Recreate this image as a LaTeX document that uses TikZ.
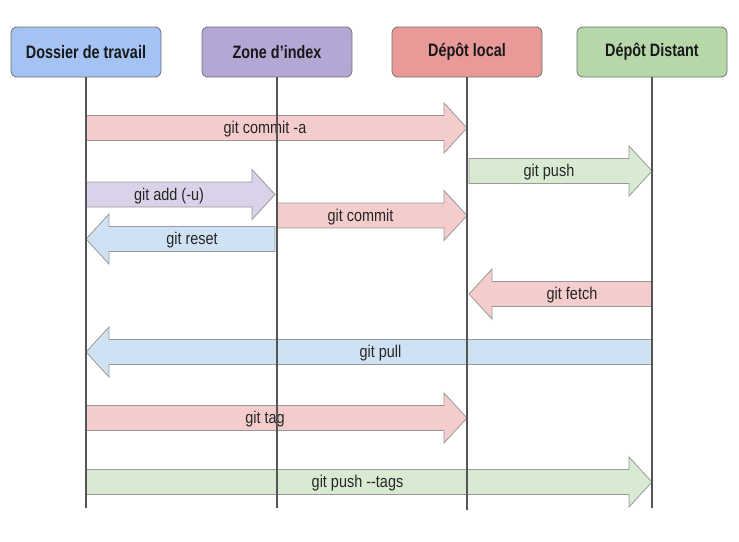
\documentclass[tikz,border=0pt]{standalone}
\usepackage{fontspec}
\setmainfont[Ligatures=NoCommon]{Liberation Sans}
\usetikzlibrary{calc}
\definecolor{hblue}{HTML}{A4C2F4}
\definecolor{hpurple}{HTML}{B4A7D6}
\definecolor{hred}{HTML}{EA9999}
\definecolor{hgreen}{HTML}{B6D7A8}
\definecolor{ared}{HTML}{F4CCCC}
\definecolor{agreen}{HTML}{D9EAD3}
\definecolor{apurple}{HTML}{D9D2E9}
\definecolor{ablue}{HTML}{CFE2F3}
\definecolor{boxline}{HTML}{707070}
\definecolor{lifec}{HTML}{555555}
\definecolor{arrline}{HTML}{999999}
\newcommand\headtext[1]{\raisebox{-1.5pt}{\scalebox{0.8}[1]{#1}}}
\newcommand\blockarrow[5]{% from, to, fill, label, name
  \draw[arrowbody, fill=#3] let \p1=(#1), \p2=(#2), \n1={ifthenelse(\x2>\x1,1,-1)} in
    (\x1,\y1+12.5pt) -- (\x2-\n1*23pt,\y1+12.5pt) -- (\x2-\n1*23pt,\y1+25pt) -- (\x2,\y1)
    -- (\x2-\n1*23pt,\y1-25pt) -- (\x2-\n1*23pt,\y1-12.5pt) -- (\x1,\y1-12.5pt) -- cycle
    ({(\x1+\x2-\n1*23pt)/2},\y1) node[lbl] (#5) {\scalebox{0.85}[1]{#4}};
}
\begin{document}
\begin{tikzpicture}[x=1pt,y=-1pt,
  head/.style={draw=boxline, rounded corners=6pt, minimum width=150pt, minimum height=50pt,
    font=\bfseries\fontsize{18}{20}\selectfont, line width=0.8pt, inner sep=0pt, text=black!90},
  lifeline/.style={draw=lifec, line width=2.4pt},
  arrowbody/.style={draw=arrline, line width=0.8pt, line join=miter},
  lbl/.style={font=\fontsize{17}{19}\selectfont, inner sep=0pt, text=black!85, yshift=-1.5pt}]
\useasboundingbox (0,0) rectangle (739,541);
\node[head, fill=hblue] (wd) at (86,52) {\headtext{Dossier de travail}};
\node[head, fill=hpurple] (ix) at (277,52) {\headtext{Zone d’index}};
\node[head, fill=hred] (lo) at (467,52) {\headtext{Dépôt local}};
\node[head, fill=hgreen] (re) at (652,52) {\headtext{Dépôt Distant}};
% lifeline ends
\coordinate (wdE) at (wd |- 0,508);
\coordinate (ixE) at (ix |- 0,508);
\coordinate (loE) at (lo |- 0,510);
\coordinate (reE) at (re |- 0,508);
% arrow end points on lifelines
\coordinate (a1) at (wd |- 0,128); \coordinate (c1) at (lo |- 0,128);
\coordinate (c2) at (469,171);     \coordinate (d2) at (re |- 0,171);
\coordinate (a3) at (wd |- 0,194.5); \coordinate (b3) at (275,194.5);
\coordinate (b4) at (ix |- 0,215.5); \coordinate (c4) at (lo |- 0,215.5);
\coordinate (b5) at (275,239);     \coordinate (a5) at (wd |- 0,239);
\coordinate (d6) at (re |- 0,294); \coordinate (c6) at (469,294);
\coordinate (d7) at (re |- 0,352); \coordinate (a7) at (wd |- 0,352);
\coordinate (a8) at (wd |- 0,418); \coordinate (c8) at (lo |- 0,418);
\coordinate (a9) at (wd |- 0,482); \coordinate (d9) at (re |- 0,482);
\blockarrow{a1}{c1}{ared}{git commit -a}{l1}
\blockarrow{c2}{d2}{agreen}{git push}{l2}
\blockarrow{a3}{b3}{apurple}{git add (-u)}{l3}
\blockarrow{b4}{c4}{ared}{git commit}{l4}
\blockarrow{b5}{a5}{ablue}{git reset}{l5}
\blockarrow{d6}{c6}{ared}{git fetch}{l6}
\blockarrow{d7}{a7}{ablue}{git pull}{l7}
\blockarrow{a8}{c8}{ared}{git tag}{l8}
\blockarrow{a9}{d9}{agreen}{git push -{}-tags}{l9}
% lifelines on top
\draw[lifeline] (wd.south) -- (wdE);
\draw[lifeline] (ix.south) -- (ixE);
\draw[lifeline] (lo.south) -- (loE);
\draw[lifeline] (re.south) -- (reE);
\end{tikzpicture}
\end{document}
